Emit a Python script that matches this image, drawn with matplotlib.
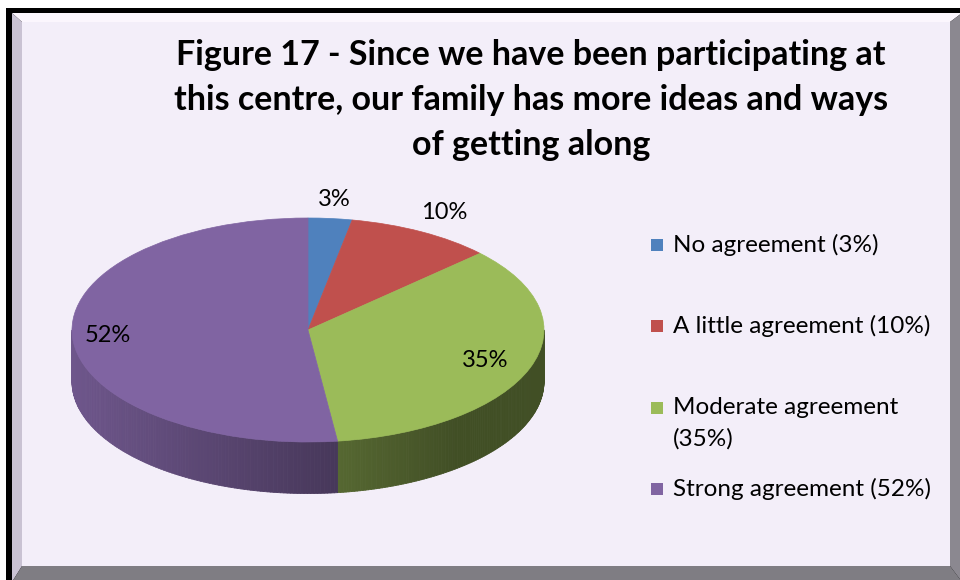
import numpy as np
import matplotlib
matplotlib.use("Agg")
import matplotlib.pyplot as plt
from matplotlib.patches import Polygon, Rectangle
from matplotlib.collections import PolyCollection
from matplotlib.colors import to_rgb

plt.rcParams['font.family'] = ['Lato', 'DejaVu Sans']

# survey answers
categories = ["No agreement", "A little agreement", "Moderate agreement", "Strong agreement"]
shares = [3, 10, 35, 52]
slice_colors = ["#4F81BD", "#C0504D", "#9BBB59", "#8064A2"]
legend_labels = ["No agreement (3%)", "A little agreement (10%)",
                 "Moderate agreement\n(35%)", "Strong agreement (52%)"]
title_lines = ["Figure 17 - Since we have been participating at",
               "this centre, our family has more ideas and ways",
               "of getting along"]

W, H = 960, 580
DEPTH = 0.46          # thickness of the disc, in units of the vertical radius
label_r = [1.17, 1.2, 0.8, 0.85]

fig = plt.figure(figsize=(W / 100, H / 100), dpi=100)
fig.patch.set_facecolor("white")

# ---- chart frame (pixel coordinates) ----
bg = fig.add_axes([0, 0, 1, 1])
bg.set_xlim(0, W)
bg.set_ylim(H, 0)
bg.axis("off")

bg.add_patch(Rectangle((6, 8), 970, 590, facecolor="black", edgecolor="none"))
x0, y0, x1, y1 = 12, 13, 962, 582
ix0, iy0, ix1, iy1 = 22, 22, 950, 566
bg.add_patch(Polygon([(x0, y0), (x1, y0), (ix1, iy0), (ix0, iy0)], facecolor="#FBF6FD", edgecolor="none"))
bg.add_patch(Polygon([(x0, y0), (ix0, iy0), (ix0, iy1), (x0, y1)], facecolor="#C9C2D3", edgecolor="none"))
bg.add_patch(Polygon([(x1, y0), (ix1, iy0), (ix1, iy1), (x1, y1)], facecolor="#8B8890", edgecolor="none"))
bg.add_patch(Polygon([(x0, y1), (ix0, iy1), (ix1, iy1), (x1, y1)], facecolor="#7F7D83", edgecolor="none"))
bg.add_patch(Rectangle((ix0, iy0), ix1 - ix0, iy1 - iy0, facecolor="#F3EEF9", edgecolor="none"))

# title
for i, line in enumerate(title_lines):
    bg.text(531, 65 + i * 45, line, ha="center", va="baseline",
            fontsize=24.5, fontweight="bold", color="black")

# legend
for i, (lab, col) in enumerate(zip(legend_labels, slice_colors)):
    yc = 245 + i * 81.3
    bg.add_patch(Rectangle((651, yc - 6), 12, 12, facecolor=col, edgecolor="none"))
    for j, part in enumerate(lab.split("\n")):
        bg.text(673, yc + j * 31, part, ha="left", va="center",
                fontsize=17.5, color="black")

# ---- 3D pie ----
cx, cy, a, b = 308, 330, 236, 112
xl, yl = (-1.25, 1.25), (-1.7, 1.3)
pw = (xl[1] - xl[0]) * a
ph = (yl[1] - yl[0]) * b
ax = fig.add_axes([(cx + xl[0] * a) / W, (H - cy + yl[0] * b) / H, pw / W, ph / H])
ax.patch.set_alpha(0)

fracs = np.array(shares, dtype=float) / sum(shares)
edges = 90 - 360 * np.concatenate([[0], np.cumsum(fracs)])   # clockwise from 12 o'clock

# side wall: only the front half (-180..0 deg) is visible
strips, strip_cols = [], []
for k, col in enumerate(slice_colors):
    t_hi, t_lo = edges[k], edges[k + 1]
    lo, hi = max(t_lo, -180), min(t_hi, 0)
    if lo >= hi:
        continue
    base = np.array(to_rgb(col))
    th = np.radians(np.linspace(lo, hi, 120))
    for t1, t2 in zip(th[:-1], th[1:]):
        c1, s1, c2, s2 = np.cos(t1), np.sin(t1), np.cos(t2), np.sin(t2)
        strips.append([(c1, s1), (c2, s2), (c2, s2 - DEPTH), (c1, s1 - DEPTH)])
        xm = 0.5 * (c1 + c2)
        f = max(0.42, 0.86 - 0.27 * (xm + 1))
        strip_cols.append(base * f)
ax.add_collection(PolyCollection(strips, facecolors=strip_cols, edgecolors=strip_cols,
                                 linewidths=0.6, zorder=1))

wedges, _ = ax.pie(shares, colors=slice_colors, startangle=90, counterclock=False,
                   wedgeprops=dict(linewidth=0.5, zorder=2))
for w, col in zip(wedges, slice_colors):
    w.set_edgecolor(col)

ax.set_aspect("auto")
ax.set_xlim(*xl)
ax.set_ylim(*yl)
ax.axis("off")

# percentage labels
for k, v in enumerate(shares):
    tm = np.radians(0.5 * (edges[k] + edges[k + 1]))
    ax.text(label_r[k] * np.cos(tm), label_r[k] * np.sin(tm), f"{v}%",
            ha="center", va="center", fontsize=17, color="black", zorder=5)

fig.savefig("out.png", dpi=100, facecolor=fig.get_facecolor())
